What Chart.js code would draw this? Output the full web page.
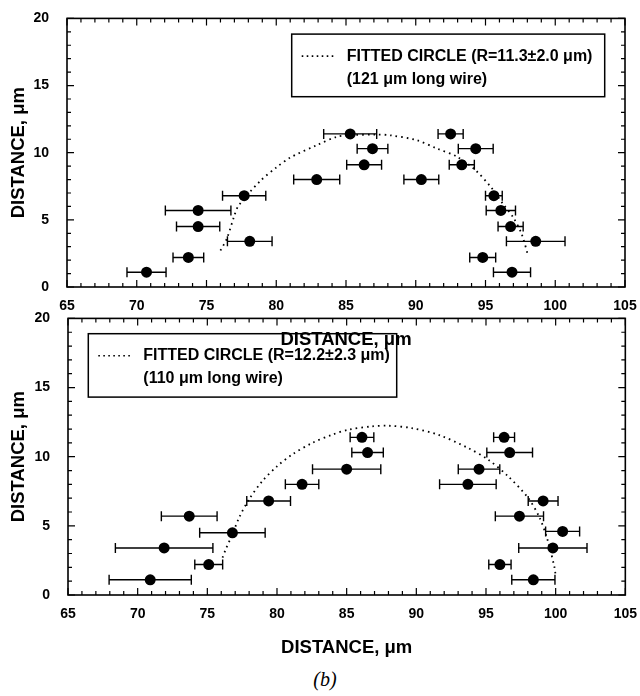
<!DOCTYPE html>
<html>
<head>
<meta charset="utf-8">
<script src="https://cdn.jsdelivr.net/npm/chart.js@4.4.1/dist/chart.umd.min.js"></script>
<style>
  body { margin: 0; background: #fff; }
  #wrap { position: relative; width: 640px; height: 696px; }
  canvas { position: absolute; left: 0; }
  #c_top { top: 0; z-index: 2; }
  #c_bot { top: 300px; z-index: 1; }
  #panel { position: absolute; left: 300px; top: 668px; width: 50px; text-align: center;
           font: italic 20px "Liberation Serif", "DejaVu Serif", serif; color: #000; }
</style>
</head>
<body>
<div id="wrap">
  <canvas id="c_bot" width="640" height="360"></canvas>
  <canvas id="c_top" width="640" height="352"></canvas>
  <div id="panel">(b)</div>
</div>
<script>
// ---- data ----
var xTicks = [65, 70, 75, 80, 85, 90, 95, 100, 105]
var yTicks = [0, 5, 10, 15, 20]
var axisTitle = 'DISTANCE, \u03BCm'

// top panel (121 um wire)
var topX    = [70.7, 73.7, 74.4, 74.4, 77.7, 78.1, 82.9, 85.3, 86.9, 86.3, 90.4, 92.5, 94.3, 93.3, 95.6, 96.1, 96.8, 98.6, 94.8, 96.9]
var topY    = [1.1, 2.2, 4.5, 5.7, 6.8, 3.4, 8.0, 11.4, 10.3, 9.1, 8.0, 11.4, 10.3, 9.1, 6.8, 5.7, 4.5, 3.4, 2.2, 1.1]
var topXErr = [1.4, 1.1, 1.55, 2.35, 1.55, 1.6, 1.65, 1.9, 1.1, 1.25, 1.25, 0.9, 1.25, 0.9, 0.6, 1.05, 0.9, 2.1, 0.93, 1.33]
var topFitX = [76.0, 76.45, 76.97, 77.28, 78.83, 80.03, 80.99, 82.9, 84.33, 85.3, 87.15, 88.15, 90.07, 91.5, 92.94, 94.25, 95.44, 96.28, 97.0, 97.59, 98.07]
var topFitY = [2.72, 3.58, 5.22, 6.03, 7.87, 8.92, 9.63, 10.56, 11.18, 11.3, 11.35, 11.3, 10.93, 10.32, 9.71, 8.73, 7.37, 6.15, 5.17, 3.95, 2.28]
var topLegend = ['FITTED CIRCLE (R=11.3\u00B12.0 \u03BCm)', '(121 \u03BCm long wire)']

// bottom panel (110 um wire)
var botX    = [70.9, 75.1, 71.9, 76.8, 73.7, 79.4, 81.8, 85.0, 86.1, 86.5, 96.3, 96.7, 94.5, 93.7, 99.1, 97.4, 100.5, 99.8, 96.0, 98.4]
var botY    = [1.1, 2.2, 3.4, 4.5, 5.7, 6.8, 8.0, 9.1, 11.4, 10.3, 11.4, 10.3, 9.1, 8.0, 6.8, 5.7, 4.6, 3.4, 2.2, 1.1]
var botXErr = [2.95, 1.0, 3.5, 2.35, 2.0, 1.57, 1.2, 2.45, 0.85, 1.13, 0.75, 1.64, 1.49, 2.03, 1.07, 1.73, 1.22, 2.45, 0.8, 1.55]
var botFitX = [76.09, 76.34, 76.81, 77.29, 78.0, 78.95, 80.02, 81.09, 82.52, 83.95, 85.14, 86.81, 88.0, 89.66, 91.57, 93.71, 95.14, 96.57, 98.0, 98.84, 99.43, 99.91, 99.98]
var botFitY = [2.7, 3.35, 4.42, 5.61, 6.93, 8.24, 9.32, 10.16, 10.99, 11.59, 11.95, 12.19, 12.24, 12.07, 11.59, 10.63, 9.8, 8.6, 7.05, 5.61, 3.94, 2.03, 1.56]
var botLegend = ['FITTED CIRCLE (R=12.2\u00B12.3 \u03BCm)', '(110 \u03BCm long wire)']

var FONT = '"Liberation Sans", Arial, sans-serif'

function pts(xs, ys) {
    return xs.map(function (x, i) { return {x: x, y: ys[i]} })
}

// frame, inward ticks (all 4 sides), error bars and the boxed legend
var plotExtras = {
    id: 'plotExtras',
    beforeDatasetsDraw: function (chart, args, o) {
        var ctx = chart.ctx, xs = chart.scales.x, ys = chart.scales.y
        var d = chart.data.datasets[1].data
        ctx.save()
        ctx.strokeStyle = '#000'
        ctx.lineWidth = 1.4
        d.forEach(function (p, i) {
            var e = o.xErr[i]
            var x1 = xs.getPixelForValue(p.x - e), x2 = xs.getPixelForValue(p.x + e)
            var y = ys.getPixelForValue(p.y)
            ctx.beginPath()
            ctx.moveTo(x1, y); ctx.lineTo(x2, y)
            ctx.moveTo(x1, y - 5); ctx.lineTo(x1, y + 5)
            ctx.moveTo(x2, y - 5); ctx.lineTo(x2, y + 5)
            ctx.stroke()
        })
        ctx.restore()
    },
    afterDraw: function (chart, args, o) {
        var ctx = chart.ctx, a = chart.chartArea
        var xs = chart.scales.x, ys = chart.scales.y
        ctx.save()
        ctx.strokeStyle = '#000'
        ctx.lineWidth = 1.2
        var v, p, len
        for (v = xs.min; v <= xs.max; v += 1) {
            p = xs.getPixelForValue(v)
            len = (v % 5 === 0) ? 7 : 4
            ctx.beginPath()
            ctx.moveTo(p, a.bottom); ctx.lineTo(p, a.bottom - len)
            ctx.moveTo(p, a.top); ctx.lineTo(p, a.top + len)
            ctx.stroke()
        }
        for (v = ys.min; v <= ys.max; v += 1) {
            p = ys.getPixelForValue(v)
            len = (v % 5 === 0) ? 7 : 4
            ctx.beginPath()
            ctx.moveTo(a.left, p); ctx.lineTo(a.left + len, p)
            ctx.moveTo(a.right, p); ctx.lineTo(a.right - len, p)
            ctx.stroke()
        }
        ctx.lineWidth = 1.6
        ctx.strokeRect(a.left, a.top, a.right - a.left, a.bottom - a.top)

        // legend box
        var bx = a.left + o.box[0], by = a.top + o.box[1]
        ctx.lineWidth = 1.5
        ctx.strokeRect(bx, by, o.box[2], o.box[3])
        ctx.setLineDash([1.6, 3.4])
        ctx.lineWidth = 1.6
        ctx.beginPath()
        ctx.moveTo(bx + 10, by + 22); ctx.lineTo(bx + 45, by + 22)
        ctx.stroke()
        ctx.setLineDash([])
        ctx.fillStyle = '#000'
        ctx.font = 'bold 16px ' + FONT
        ctx.textBaseline = 'middle'
        ctx.textAlign = 'left'
        ctx.fillText(o.text[0], bx + 55, by + 22)
        ctx.fillText(o.text[1], bx + 55, by + 45)
        ctx.restore()
    }
}

function makeChart(id, xs, ys, fx, fy, err, legend, yAxisW, box) {
    return new Chart(document.getElementById(id), {
        type: 'scatter',
        data: {
            datasets: [{
                label: 'fit',
                data: pts(fx, fy),
                showLine: true,
                borderColor: '#000',
                borderWidth: 1.8,
                borderDash: [1.6, 4],
                tension: 0.3,
                pointRadius: 0,
                fill: false
            }, {
                label: 'data',
                data: pts(xs, ys),
                pointRadius: 5.5,
                pointBackgroundColor: '#000',
                pointBorderColor: '#000',
                pointBorderWidth: 0
            }]
        },
        options: {
            responsive: false,
            animation: false,
            events: [],
            layout: {padding: {left: 0, top: box.top, right: box.right, bottom: 0}},
            plugins: {
                legend: {display: false},
                tooltip: {enabled: false},
                plotExtras: {xErr: err, text: legend, box: box.legend}
            },
            scales: {
                x: {
                    type: 'linear', min: 65, max: 105,
                    afterBuildTicks: function (s) { s.ticks = xTicks.map(function (v) { return {value: v} }) },
                    afterFit: function (s) { s.height = box.xh },
                    grid: {display: false},
                    border: {display: false},
                    ticks: {color: '#000', padding: 3, font: {family: FONT, size: 14, weight: 'bold'}},
                    title: {display: true, text: axisTitle, color: '#000', padding: {top: 0, bottom: 1},
                            font: {family: FONT, size: 18.5, weight: 'bold'}}
                },
                y: {
                    type: 'linear', min: 0, max: 20,
                    afterBuildTicks: function (s) { s.ticks = yTicks.map(function (v) { return {value: v} }) },
                    afterFit: function (s) { s.width = yAxisW },
                    grid: {display: false},
                    border: {display: false},
                    ticks: {color: '#000', padding: 10, font: {family: FONT, size: 14, weight: 'bold'}},
                    title: {display: true, text: axisTitle, color: '#000', padding: {top: 8, bottom: 0},
                            font: {family: FONT, size: 18.5, weight: 'bold'}}
                }
            }
        },
        plugins: [plotExtras]
    })
}

makeChart('c_top', topX, topY, topFitX, topFitY, topXErr, topLegend, 67,
    {top: 15, right: 15, xh: 65, legend: [224.7, 15.7, 313, 62.6]})
makeChart('c_bot', botX, botY, botFitX, botFitY, botXErr, botLegend, 68,
    {top: 17, right: 12, xh: 65, legend: [20.3, 15.3, 308.4, 63.4]})
</script>
</body>
</html>
